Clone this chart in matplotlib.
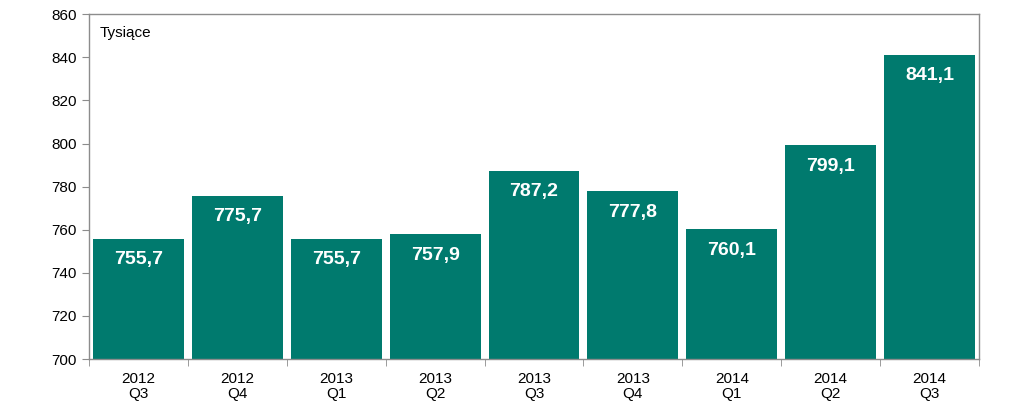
import matplotlib
matplotlib.use("Agg")
import matplotlib.pyplot as plt
import numpy as np

plt.rcParams['font.family'] = ['Liberation Sans', 'DejaVu Sans']

quarters = ["2012\nQ3", "2012\nQ4", "2013\nQ1", "2013\nQ2", "2013\nQ3",
            "2013\nQ4", "2014\nQ1", "2014\nQ2", "2014\nQ3"]
values = [755.7, 775.7, 755.7, 757.9, 787.2, 777.8, 760.1, 799.1, 841.1]

bar_color = "#007A6E"
edge_gray = "#8C8C8C"

fig = plt.figure(figsize=(10.24, 4.17), dpi=100)
ax = fig.add_axes([0.087, 0.139, 0.869, 0.827])

x = np.arange(len(values))
ax.bar(x, np.array(values) - 700, bottom=700, width=0.92, color=bar_color)

for xi, v in zip(x, values):
    ax.annotate(f"{v:.1f}".replace(".", ","), (xi, v), xytext=(0, -15),
                textcoords="offset points", ha="center", va="center",
                color="white", fontsize=14, fontweight="bold")

ax.set_xlim(-0.5, len(values) - 0.5)
ax.set_ylim(700, 860)
ax.set_yticks(range(700, 861, 20))
ax.tick_params(axis="y", labelsize=11, length=5, color=edge_gray, pad=4)

ax.set_xticks(x)
ax.set_xticklabels(quarters, fontsize=11, linespacing=1.15)
ax.tick_params(axis="x", length=0, pad=9)
ax.set_xticks(np.arange(-0.5, len(values)), minor=True)
ax.tick_params(axis="x", which="minor", length=5, color=edge_gray)

for s in ax.spines.values():
    s.set_color(edge_gray)
    s.set_linewidth(1)

ax.text(0.012, 0.965, "Tysiące", transform=ax.transAxes, ha="left", va="top", fontsize=11)

fig.savefig("out.png", dpi=100)
